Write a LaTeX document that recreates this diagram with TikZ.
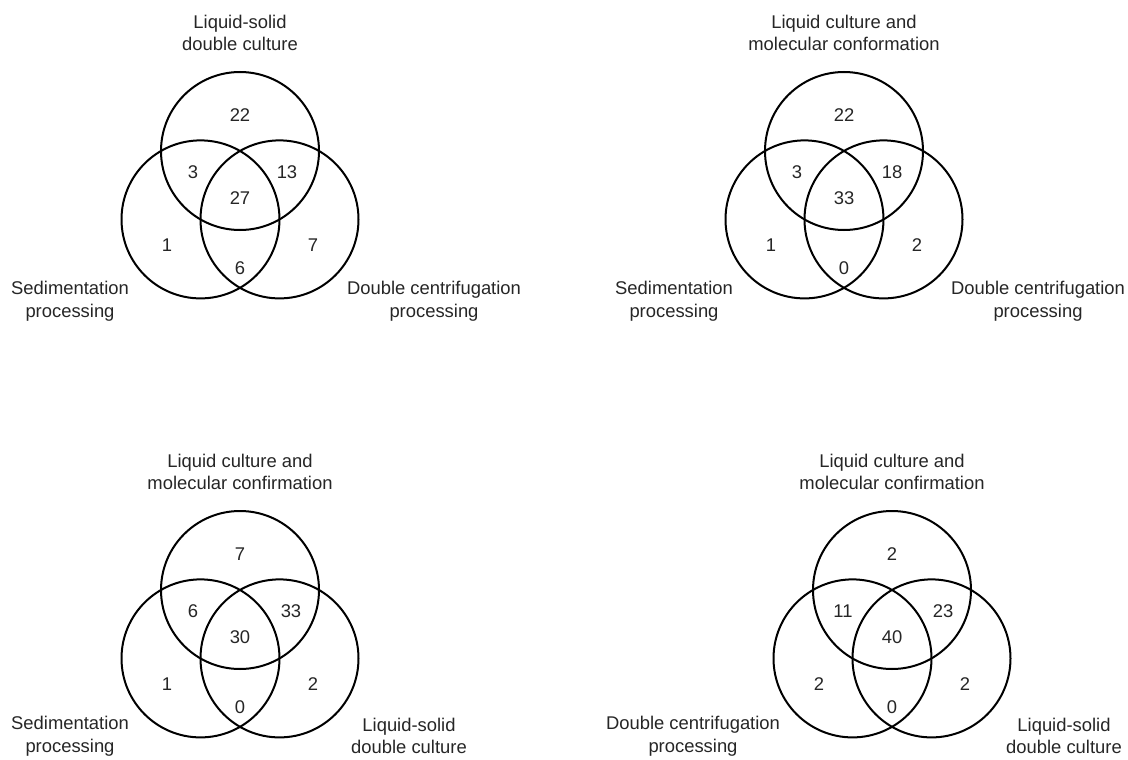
\documentclass[tikz,border=0pt]{standalone}
\usepackage{fontspec}
\setmainfont{Liberation Sans}
\usepackage{tikz}
\usetikzlibrary{positioning}

\tikzset{
  set/.style={circle, draw=black, line width=2pt, minimum size=158pt, inner sep=0pt},
  num/.style={inner sep=0pt, font=\fontsize{18.4}{22}\selectfont, text=black!85},
  lbl/.style={inner sep=0pt, align=center, font=\fontsize{18.4}{22.5}\selectfont, text=black!85}
}

\begin{document}
\begin{tikzpicture}[x=1pt, y=-1pt]
\useasboundingbox (0,0) rectangle (1128,760);
\fill [white] (0,0) rectangle (1128,760);

% top left
\begin{scope}[shift={(240,151)}]
\node [set] (LSa) at (0, 0) {};
\node [set] (SPa) at (-39.5, 68.4) {};
\node [set] (DCa) at (39.5, 68.4) {};
\node [num] (a1) at (0, -36) {22};
\node [num] (a2) at (-47, 21) {3};
\node [num] (a3) at (47, 21) {13};
\node [num] (a4) at (0, 47) {27};
\node [num] (a5) at (-73, 94) {1};
\node [num] (a6) at (73, 94) {7};
\node [num] (a7) at (0, 117) {6};
\node [lbl] (LSla) at (0, -118) {Liquid-solid\\double culture};
\node [lbl] (SPla) at (-170, 150) {Sedimentation\\processing};
\node [lbl] (DCla) at (194, 150) {Double centrifugation\\processing};
\end{scope}

% top right
\begin{scope}[shift={(844,151)}]
\node [set] (LMb) at (0, 0) {};
\node [set] (SPb) at (-39.5, 68.4) {};
\node [set] (DCb) at (39.5, 68.4) {};
\node [num] (b1) at (0, -36) {22};
\node [num] (b2) at (-47, 21) {3};
\node [num] (b3) at (48, 21) {18};
\node [num] (b4) at (0, 47) {33};
\node [num] (b5) at (-73, 94) {1};
\node [num] (b6) at (73, 94) {2};
\node [num] (b7) at (0, 117) {0};
\node [lbl] (LMlb) at (0, -118) {Liquid culture and\\molecular conformation};
\node [lbl] (SPlb) at (-170, 150) {Sedimentation\\processing};
\node [lbl] (DClb) at (194, 150) {Double centrifugation\\processing};
\end{scope}

% bottom left
\begin{scope}[shift={(240,590)}]
\node [set] (LMc) at (0, 0) {};
\node [set] (SPc) at (-39.5, 68.4) {};
\node [set] (LSc) at (39.5, 68.4) {};
\node [num] (c1) at (0, -36) {7};
\node [num] (c2) at (-47, 21) {6};
\node [num] (c3) at (51, 21) {33};
\node [num] (c4) at (0, 47) {30};
\node [num] (c5) at (-73, 94) {1};
\node [num] (c6) at (73, 94) {2};
\node [num] (c7) at (0, 117) {0};
\node [lbl] (LMlc) at (0, -118) {Liquid culture and\\molecular confirmation};
\node [lbl] (SPlc) at (-170, 146) {Sedimentation\\processing};
\node [lbl] (LSlc) at (169, 146) {Liquid-solid\\double culture};
\end{scope}

% bottom right
\begin{scope}[shift={(892,590)}]
\node [set] (LMd) at (0, 0) {};
\node [set] (DCd) at (-39.5, 68.4) {};
\node [set] (LSd) at (39.5, 68.4) {};
\node [num] (d1) at (0, -36) {2};
\node [num] (d2) at (-49, 21) {11};
\node [num] (d3) at (51, 21) {23};
\node [num] (d4) at (0, 47) {40};
\node [num] (d5) at (-73, 94) {2};
\node [num] (d6) at (73, 94) {2};
\node [num] (d7) at (0, 117) {0};
\node [lbl] (LMld) at (0, -118) {Liquid culture and\\molecular confirmation};
\node [lbl] (DCld) at (-199, 146) {Double centrifugation\\processing};
\node [lbl] (LSld) at (172, 146) {Liquid-solid\\double culture};
\end{scope}
\end{tikzpicture}
\end{document}
